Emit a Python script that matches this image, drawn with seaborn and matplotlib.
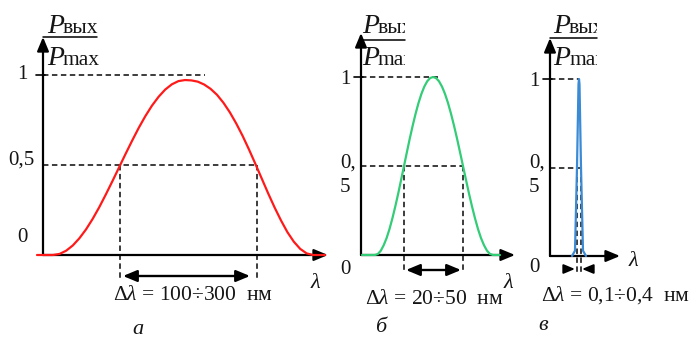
import matplotlib
matplotlib.use("Agg")
import matplotlib.pyplot as plt
import seaborn as sns
from matplotlib.patches import ArrowStyle
from matplotlib.transforms import Bbox, TransformedBbox

sns.set_style("white")
plt.rcParams['font.family'] = ['Liberation Serif', 'DejaVu Serif']
plt.rcParams['mathtext.fontset'] = 'custom'
plt.rcParams['mathtext.rm'] = 'Liberation Serif'
plt.rcParams['mathtext.it'] = 'Liberation Serif:italic'

# ---------------- data ----------------
# panel a: wide band (normalised output power vs wavelength, arbitrary units)
lam_a = [-0.06, 0.10, 0.166, 0.232, 0.298, 0.364, 0.43, 0.496, 0.562, 0.628, 0.694,
         0.76, 0.826, 0.892, 0.958, 1.024, 1.09, 1.156, 1.222, 1.288, 1.354, 1.42,
         1.484, 1.548, 1.612, 1.676, 1.74, 1.804, 1.868, 1.932, 1.996, 2.06,
         2.124, 2.188, 2.252, 2.316, 2.38, 2.444, 2.508, 2.572, 2.636, 2.70, 2.82]
p_a = [0, 0, 0.006, 0.024, 0.053, 0.093, 0.142, 0.200, 0.265, 0.336, 0.410,
       0.486, 0.562, 0.636, 0.707, 0.772, 0.830, 0.879, 0.919, 0.948, 0.966, 0.972,
       0.970, 0.963, 0.947, 0.923, 0.890, 0.846, 0.793, 0.731, 0.662, 0.586,
       0.506, 0.424, 0.342, 0.264, 0.192, 0.127, 0.074, 0.034, 0.009, 0, 0]
# panel b: medium band
lam_b = [0.01, 0.14, 0.169, 0.198, 0.227, 0.256, 0.285, 0.314, 0.343, 0.372, 0.401,
         0.43, 0.459, 0.488, 0.517, 0.546, 0.575, 0.604, 0.633, 0.662, 0.691, 0.72,
         0.75, 0.78, 0.81, 0.84, 0.87, 0.90, 0.93, 0.96, 0.99, 1.02,
         1.05, 1.08, 1.11, 1.14, 1.17, 1.20, 1.23, 1.26, 1.29, 1.32, 1.39]
p_b = [0, 0, 0.006, 0.024, 0.055, 0.095, 0.146, 0.206, 0.273, 0.345, 0.422,
       0.5, 0.578, 0.655, 0.727, 0.794, 0.854, 0.905, 0.946, 0.976, 0.994, 1.0,
       0.994, 0.976, 0.946, 0.905, 0.854, 0.794, 0.727, 0.655, 0.578, 0.5,
       0.422, 0.345, 0.273, 0.206, 0.146, 0.095, 0.055, 0.024, 0.006, 0, 0]
# panel c: narrow line
lam_c = [0.22, 0.25, 0.27, 0.285, 0.29, 0.295, 0.31, 0.33, 0.36]
p_c = [0, 0.03, 0.5, 0.97, 1.0, 0.97, 0.5, 0.03, 0]

half_a = [0.77, 2.14]     # half-maximum wavelengths
half_b = [0.43, 1.02]
half_c = [0.27, 0.31]
level1_end = [1.62, 0.79, 0.29]   # extent of dashed line at level 1
width_texts = [r"$\Delta\mathit{\lambda}$ = 100÷300  нм",
               r"$\Delta\mathit{\lambda}$ = 20÷50  нм",
               r"$\Delta\mathit{\lambda}$ = 0,1÷0,4  нм"]
panel_letters = ["а", "б", "в"]
colors = ["#ff1a1a", "#33cc77", "#3a8ad6"]

W, H, DPI = 696, 339, 100
fig = plt.figure(figsize=(W / DPI, H / DPI), dpi=DPI)
fig.patch.set_facecolor("white")
TXT = "#151515"

# panel geometry in pixels: column, axis origin x, zero level y, unit level y
geo = [
    dict(c0=0, c1=340, x0=43, y0=255, y1=75, xend=328, ytop=37),
    dict(c0=340, c1=525, x0=361, y0=255, y1=77, xend=515, ytop=33),
    dict(c0=525, c1=696, x0=550, y0=256, y1=79, xend=620, ytop=38),
]

axes = []
for g in geo:
    ax = fig.add_axes([g["c0"] / W, 0, (g["c1"] - g["c0"]) / W, 1])
    s = g["y0"] - g["y1"]
    ax.set_xlim((g["c0"] - g["x0"]) / 100, (g["c1"] - g["x0"]) / 100)
    ax.set_ylim((g["y0"] - H) / s, g["y0"] / s)
    ax.axis("off")
    axes.append(ax)


def d(i, px, py):
    g = geo[i]
    return (px - g["x0"]) / 100, (g["y0"] - py) / (g["y0"] - g["y1"])


ahead = ArrowStyle("-|>", head_length=0.6, head_width=0.25)
dbl = ArrowStyle("<|-|>", head_length=0.6, head_width=0.25)
dash = (0, (3.4, 2.2))
DC = "#111111"

curves = [(lam_a, p_a), (lam_b, p_b), (lam_c, p_c)]
halves = [half_a, half_b, half_c]

for i, ax in enumerate(axes):
    g = geo[i]
    lam, p = curves[i]
    xe, _ = d(i, g["xend"], g["y0"])
    _, yt = d(i, g["x0"], g["ytop"])
    ax.annotate("", xy=(0, yt), xytext=(0, 0),
                arrowprops=dict(arrowstyle=ahead, lw=1.6, color="black",
                                mutation_scale=14, shrinkA=0, shrinkB=0), zorder=3)
    ax.annotate("", xy=(xe, 0), xytext=(0, 0),
                arrowprops=dict(arrowstyle=ahead, lw=1.6, color="black",
                                mutation_scale=14, shrinkA=0, shrinkB=0), zorder=3)
    tx0, _ = d(i, g["x0"] - 7, 0)
    tx1, _ = d(i, g["x0"] + 2, 0)
    ax.plot([tx0, tx1], [1, 1], color="black", lw=1.2, zorder=3)
    h0, h1 = halves[i]
    ax.plot([0, level1_end[i]], [1, 1], color=DC, lw=1.15, ls=dash, zorder=2)
    ax.plot([0, h1], [0.5, 0.5], color=DC, lw=1.15, ls=dash, zorder=2)
    ybot = [d(0, 0, 280)[1], d(1, 0, 273)[1], d(2, 0, 272)[1]][i]
    for h in (h0, h1):
        ax.plot([h, h], [0.5, ybot], color=DC, lw=1.15, ls=dash, zorder=2)
    sns.lineplot(x=lam, y=p, ax=ax, color=colors[i], linewidth=1.6,
                 estimator=None, sort=False, zorder=4)

# width arrows
ya = d(0, 0, 276)[1]
axes[0].annotate("", xy=(d(0, 123, 0)[0], ya), xytext=(d(0, 250, 0)[0], ya),
                 arrowprops=dict(arrowstyle=dbl, lw=1.7, color="black",
                                 mutation_scale=14, shrinkA=0, shrinkB=0))
yb = d(1, 0, 270)[1]
axes[1].annotate("", xy=(d(1, 406, 0)[0], yb), xytext=(d(1, 461, 0)[0], yb),
                 arrowprops=dict(arrowstyle=dbl, lw=1.7, color="black",
                                 mutation_scale=14, shrinkA=0, shrinkB=0))
yc = d(2, 0, 269)[1]
axes[2].annotate("", xy=(d(2, 575, 0)[0], yc), xytext=(d(2, 564, 0)[0], yc),
                 arrowprops=dict(arrowstyle=ahead, lw=1.4, color="black",
                                 mutation_scale=11, shrinkA=0, shrinkB=0))
axes[2].annotate("", xy=(d(2, 582, 0)[0], yc), xytext=(d(2, 593, 0)[0], yc),
                 arrowprops=dict(arrowstyle=ahead, lw=1.4, color="black",
                                 mutation_scale=11, shrinkA=0, shrinkB=0))

FS = 15
a0 = axes[0]
a0.text(*d(0, 22, 75), "1", fontsize=FS, ha="center", va="center", color=TXT)
a0.text(*d(0, 21, 160), "0,5", fontsize=FS, ha="center", va="center", color=TXT)
a0.text(*d(0, 22, 237), "0", fontsize=FS, ha="center", va="center", color=TXT)
for i, (lx, y1, yh, y0) in enumerate([(345, 80, 154, 270), (534, 82, 154, 268)]):
    ax = axes[i + 1]
    ax.text(*d(i + 1, lx, y1), "1", fontsize=FS, ha="center", va="center", color=TXT)
    ax.text(*d(i + 1, lx - 5, yh), "0,\n5", fontsize=FS, ha="left", va="top",
            linespacing=1.35, color=TXT)
    ax.text(*d(i + 1, lx, y0), "0", fontsize=FS, ha="center", va="center", color=TXT)

for i, (px, py) in enumerate([(315, 283), (508, 284), (633, 262)]):
    axes[i].text(*d(i, px, py), "λ", fontsize=16, style="italic", ha="center",
                 va="center", color=TXT)

for i, (px, py) in enumerate([(193, 295), (434, 300), (616, 295)]):
    axes[i].text(*d(i, px, py), width_texts[i], fontsize=15.5, ha="center",
                 va="center", color=TXT)
for i, (px, py) in enumerate([(138, 330), (381, 328), (543, 326)]):
    axes[i].text(*d(i, px, py), panel_letters[i], fontsize=16, style="italic",
                 ha="center", va="center", color=TXT)

frac = [dict(px=47, line=(43, 97, 37), clip=340), dict(px=362, line=(361, 405, 40), clip=405),
        dict(px=553, line=(550, 597, 38), clip=597)]
for i, f in enumerate(frac):
    ax = axes[i]
    cb = TransformedBbox(Bbox([[0, 0], [f["clip"] / W, 1]]), fig.transFigure)
    l0, l1, ly = f["line"]
    ax.plot([d(i, l0, 0)[0], d(i, l1, 0)[0]], [d(i, 0, ly)[1]] * 2, color="black", lw=1.1)
    for (base, sub) in [(33, "вых"), (65, "max")]:
        t1 = ax.text(*d(i, f["px"], base), "P", fontsize=20, style="italic", ha="left",
                     va="baseline", color=TXT)
        t2 = ax.text(*d(i, f["px"] + 16, base), sub, fontsize=15.5, ha="left",
                     va="baseline", color=TXT)
        for t in (t1, t2):
            t.set_clip_box(cb)
            t.set_clip_on(True)

fig.savefig("out.png", dpi=DPI, facecolor="white")
